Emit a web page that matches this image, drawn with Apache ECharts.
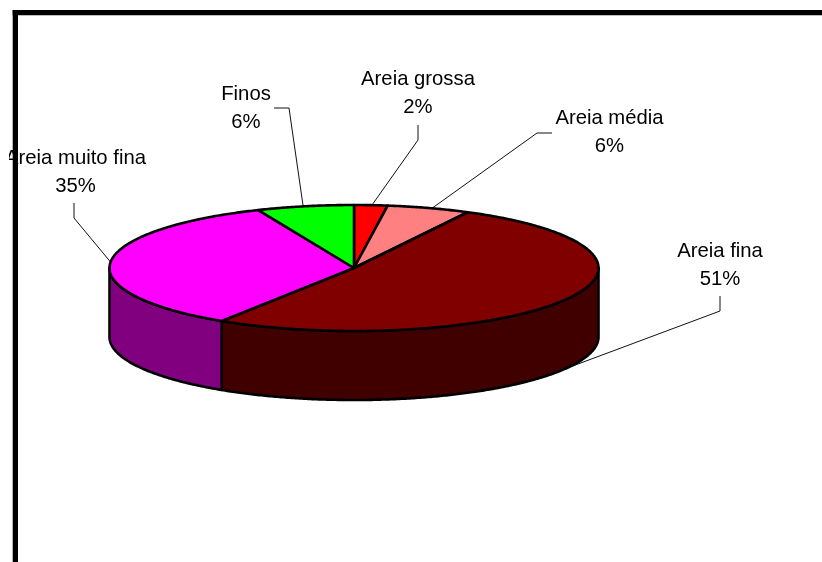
<!DOCTYPE html>
<html>
<head>
<meta charset="utf-8">
<style>html,body{margin:0;padding:0;background:#fff}#c{width:822px;height:562px}</style>
<script src="https://cdn.jsdelivr.net/npm/echarts@6/dist/echarts.min.js"></script>
</head>
<body>
<div id="c"></div>
<script>
var categories = ['Areia grossa', 'Areia média', 'Areia fina', 'Areia muito fina', 'Finos'];
// slice sizes; the printed labels are their rounded forms
var shares = [2.2, 5.5, 51.4, 34.5, 6.4];
var percentLabels = ['2%', '6%', '51%', '35%', '6%'];
var topColors = ['#FF0000', '#FF8080', '#800000', '#FF00FF', '#00FF00'];
var wallColors = ['#800000', '#804040', '#400000', '#800080', '#008000'];

// layout of the perspective pie
var pie = { cx: 354, cy: 268, rx: 244.5, ry: 63, depth: 69 };
// label centres, leader elbows and the angle (deg clockwise from 12 o'clock) the leader aims for
var labelX = [418, 609.5, 720, 75.5, 246];
var labelY = [78, 117, 250, 157, 93];
var leaderStart = [[418, 125], [552, 133], [720, 296], [74, 203], [274, 108]];
var leaderElbow = [[418, 140], [537, 133], [720, 311], [74, 218], [289, 108]];
var leaderAngle = [4.2, 18.6, 120.6, 275.4, 348];
var leaderDepth = [0, 0, 1, 0, 0];

var total = shares.reduce(function (a, b) { return a + b; }, 0);

function pt(deg, dy) {
  var t = deg * Math.PI / 180;
  return [pie.cx + pie.rx * Math.sin(t), pie.cy - pie.ry * Math.cos(t) + (dy || 0)];
}
function arc(a, b, dy) {
  var n = Math.max(2, Math.ceil(Math.abs(b - a) * 2)), out = [];
  for (var i = 0; i <= n; i++) out.push(pt(a + (b - a) * i / n, dy));
  return out;
}
function startAngle(i) {
  var s = 0;
  for (var k = 0; k < i; k++) s += shares[k];
  return s / total * 360;
}

var edge = { stroke: '#000', lineWidth: 2.6, lineJoin: 'round' };

function renderLeader(params, api) {
  var i = params.dataIndex;
  return {
    type: 'polyline',
    shape: { points: [leaderStart[i], leaderElbow[i], pt(leaderAngle[i], leaderDepth[i] ? pie.depth : 0)] },
    style: { stroke: '#111', lineWidth: 1, fill: null }
  };
}

function renderSlice(params, api) {
  var i = params.dataIndex;
  var a = startAngle(i), b = a + api.value(0) / total * 360;
  var children = [];
  var wa = Math.max(a, 90), wb = Math.min(b, 270);
  if (wb > wa) {
    var front = arc(wa, wb, 0);
    var back = arc(wb, wa, pie.depth);
    children.push({
      type: 'polygon',
      shape: { points: front.concat(back) },
      style: Object.assign({ fill: wallColors[i] }, edge)
    });
  }
  children.push({
    type: 'polygon',
    shape: { points: [[pie.cx, pie.cy]].concat(arc(a, b, 0)) },
    style: Object.assign({ fill: topColors[i] }, edge)
  });
  return { type: 'group', children: children };
}

function renderLabel(params, api) {
  var i = params.dataIndex;
  return {
    type: 'text',
    x: labelX[i], y: labelY[i],
    style: {
      text: categories[i] + '\n' + percentLabels[i],
      fontFamily: '"Liberation Sans", Arial, sans-serif',
      fontSize: 20.3,
      lineHeight: 28.5,
      fill: '#000',
      align: 'center',
      verticalAlign: 'top',
      y: -13
    }
  };
}

var sliceData = shares.map(function (v, i) { return { value: [v], name: categories[i] }; });

var chart = echarts.init(document.getElementById('c'), null, { renderer: 'canvas' });
chart.setOption({
  animation: false,
  backgroundColor: '#fff',
  xAxis: { show: false }, yAxis: { show: false },
  series: [
    { type: 'custom', coordinateSystem: 'none', renderItem: renderLeader, data: sliceData, z: 1, silent: true },
    { type: 'custom', coordinateSystem: 'none', renderItem: renderSlice, data: sliceData, z: 2, silent: true },
    { type: 'custom', coordinateSystem: 'none', renderItem: renderLabel, data: sliceData, z: 3, silent: true }
  ],
  graphic: [
    { type: 'rect', z: 100, shape: { x: 0, y: 0, width: 9, height: 562 }, style: { fill: '#fff' } },
    { type: 'rect', z: 101, shape: { x: 12.7, y: 10, width: 810, height: 5.3 }, style: { fill: '#000' } },
    { type: 'rect', z: 101, shape: { x: 12.7, y: 10, width: 5.3, height: 552 }, style: { fill: '#000' } }
  ]
});
</script>
</body>
</html>
